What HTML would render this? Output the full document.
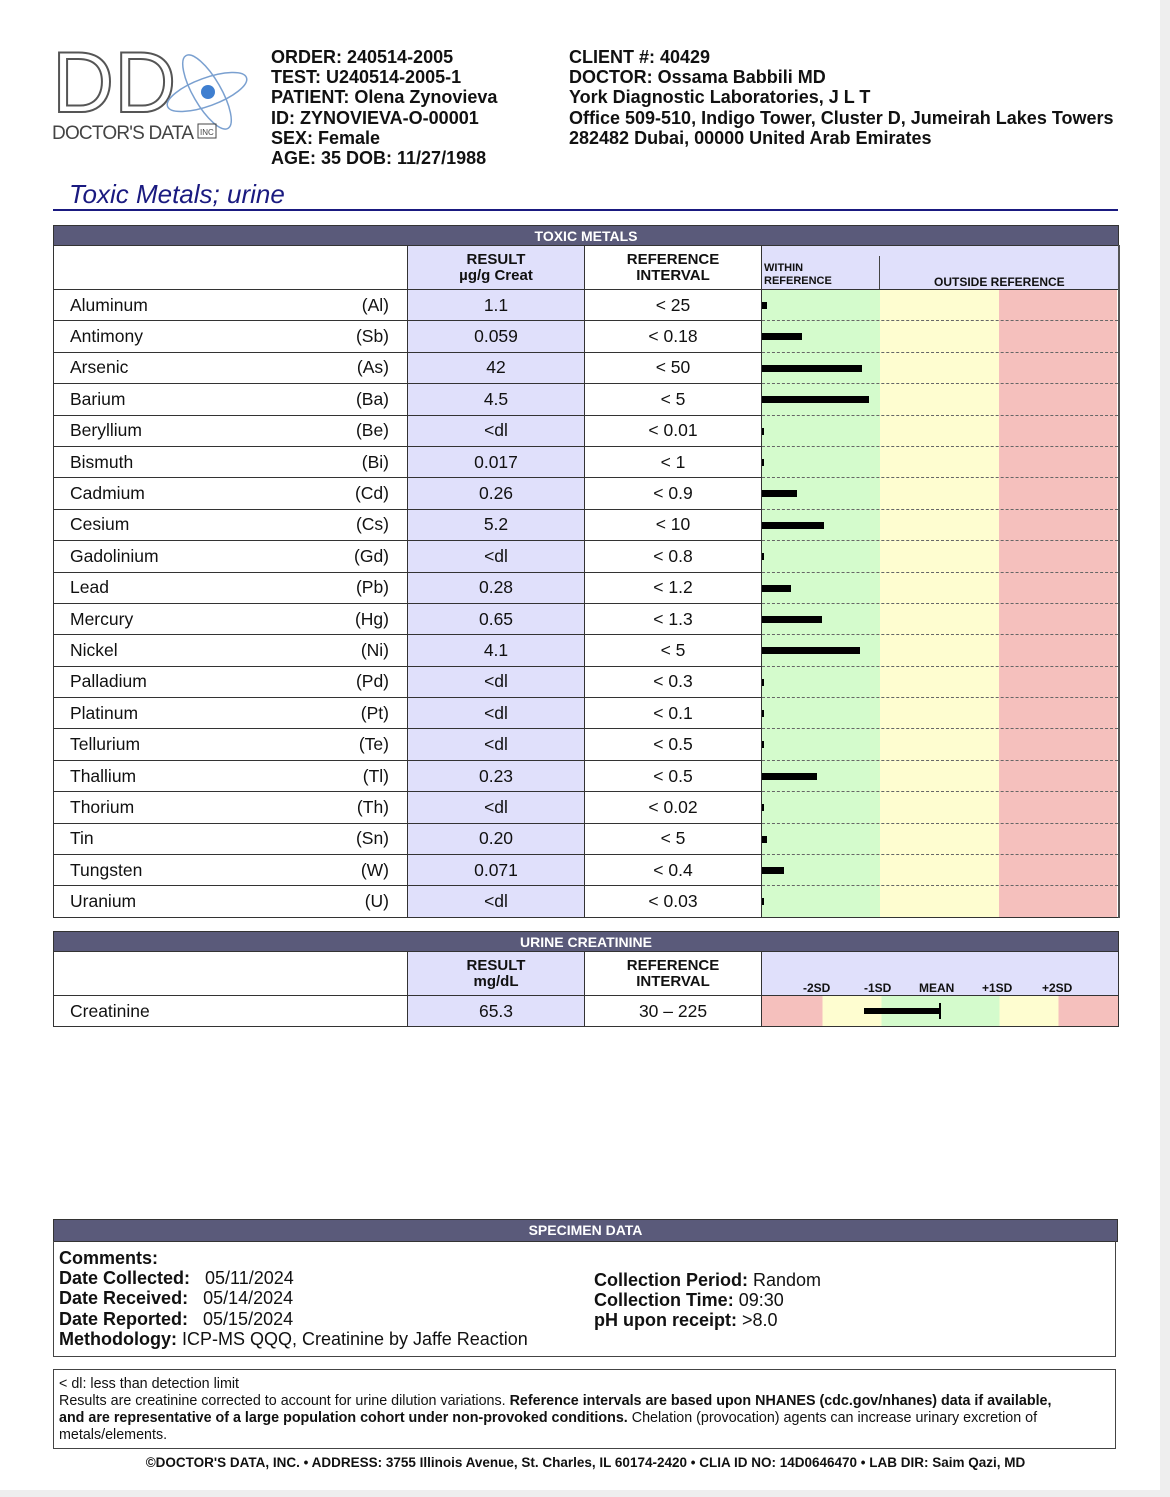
<!DOCTYPE html>
<html><head><meta charset="utf-8"><style>
body{margin:0;width:1170px;height:1497px;background:#fff;font-family:"Liberation Sans",Arial,sans-serif;color:#111;position:relative;overflow:hidden}
.a{position:absolute}
.hdr{font-weight:bold;font-size:18px;line-height:20.2px}
table{border-collapse:collapse;table-layout:fixed;position:absolute;left:53px;width:1065px}
td{padding:0;border:1px solid #333;font-size:17.5px;height:30.4px}
td.n{padding-left:16px}
td.n span{float:right;padding-right:18px}
td.r{background:#e0e0fb;text-align:center}
td.f{text-align:center}
td.g{border-top:none;border-bottom:1px dashed #666;border-right:2px solid #555;position:relative}
.bar{position:absolute;left:0;top:12px;height:7px;background:#000}
.title{background:#5a5a7a;color:#fff;font-weight:bold;font-size:14px;text-align:center;border:1px solid #333}
.th{font-weight:bold;font-size:15px;text-align:center;line-height:16px}
</style></head><body>
<div class="a" style="left:1160px;top:0;width:10px;height:1497px;background:#eee"></div>
<div class="a" style="left:0;top:1490px;width:1170px;height:7px;background:#eee"></div>
<svg class="a" style="left:50px;top:44px" width="200" height="106">
<text x="2" y="68" font-family="Liberation Sans" font-size="86" fill="#fff" stroke="#555" stroke-width="2">DD</text>
<ellipse cx="157" cy="48" rx="42" ry="14" fill="none" stroke="#7aa0d0" stroke-width="1.5" transform="rotate(-20 157 48)"/>
<ellipse cx="157" cy="48" rx="42" ry="14" fill="none" stroke="#7aa0d0" stroke-width="1.5" transform="rotate(60 157 48)"/>
<circle cx="158" cy="48" r="7" fill="#3f7fd0"/>
<text x="2" y="95" font-family="Liberation Sans" font-size="19" fill="#444" textLength="142">DOCTOR'S DATA</text>
<rect x="148" y="80" width="18" height="14" fill="none" stroke="#444"/><text x="150" y="91" font-family="Liberation Sans" font-size="8" fill="#444">INC</text>
</svg>
<div class="a hdr" style="left:271px;top:47px">ORDER: 240514-2005<br>TEST: U240514-2005-1<br>PATIENT: Olena Zynovieva<br>ID: ZYNOVIEVA-O-00001<br>SEX: Female<br>AGE: 35 DOB: 11/27/1988</div>
<div class="a hdr" style="left:569px;top:47px">CLIENT #: 40429<br>DOCTOR: Ossama Babbili MD<br>York Diagnostic Laboratories, J L T<br>Office 509-510, Indigo Tower, Cluster D, Jumeirah Lakes Towers<br>282482 Dubai, 00000 United Arab Emirates</div>
<div class="a" style="left:69px;top:179px;font-size:26px;font-style:italic;color:#1a1a80">Toxic Metals; urine</div>
<div class="a" style="left:53px;top:209px;width:1065px;height:2px;background:#1a1a80"></div>

<div class="a" style="left:761px;top:290px;width:119px;height:628px;background:#d4fbcc"></div>
<div class="a" style="left:880px;top:290px;width:119px;height:628px;background:#fefdd0"></div>
<div class="a" style="left:999px;top:290px;width:118px;height:628px;background:#f5c0bd"></div>
<table style="top:225px">
<colgroup><col style="width:354px"><col style="width:177px"><col style="width:177px"><col style="width:357px"></colgroup>
<tr><td colspan="4" class="title" style="height:19px">TOXIC METALS</td></tr>
<tr><td style="height:43px"></td><td class="r th">RESULT<br>µg/g Creat</td><td class="th">REFERENCE<br>INTERVAL</td><td style="background:#e0e0fb;position:relative;font-size:11px;font-weight:bold;border-right:2px solid #555"><div class="a" style="left:2px;top:16px;line-height:13px">WITHIN<br>REFERENCE</div><div class="a" style="left:117px;top:10px;width:1px;height:33px;background:#444"></div><div class="a" style="left:172px;top:29px;font-size:12px">OUTSIDE REFERENCE</div></td></tr>
<tr><td class="n">Aluminum<span>(Al)</span></td><td class="r">1.1</td><td class="f">&lt; 25</td><td class="g"><div class="bar" style="width:5px"></div></td></tr>
<tr><td class="n">Antimony<span>(Sb)</span></td><td class="r">0.059</td><td class="f">&lt; 0.18</td><td class="g"><div class="bar" style="width:40px"></div></td></tr>
<tr><td class="n">Arsenic<span>(As)</span></td><td class="r">42</td><td class="f">&lt; 50</td><td class="g"><div class="bar" style="width:100px"></div></td></tr>
<tr><td class="n">Barium<span>(Ba)</span></td><td class="r">4.5</td><td class="f">&lt; 5</td><td class="g"><div class="bar" style="width:107px"></div></td></tr>
<tr><td class="n">Beryllium<span>(Be)</span></td><td class="r">&lt;dl</td><td class="f">&lt; 0.01</td><td class="g"><div class="bar" style="width:2px"></div></td></tr>
<tr><td class="n">Bismuth<span>(Bi)</span></td><td class="r">0.017</td><td class="f">&lt; 1</td><td class="g"><div class="bar" style="width:2px"></div></td></tr>
<tr><td class="n">Cadmium<span>(Cd)</span></td><td class="r">0.26</td><td class="f">&lt; 0.9</td><td class="g"><div class="bar" style="width:35px"></div></td></tr>
<tr><td class="n">Cesium<span>(Cs)</span></td><td class="r">5.2</td><td class="f">&lt; 10</td><td class="g"><div class="bar" style="width:62px"></div></td></tr>
<tr><td class="n">Gadolinium<span>(Gd)</span></td><td class="r">&lt;dl</td><td class="f">&lt; 0.8</td><td class="g"><div class="bar" style="width:2px"></div></td></tr>
<tr><td class="n">Lead<span>(Pb)</span></td><td class="r">0.28</td><td class="f">&lt; 1.2</td><td class="g"><div class="bar" style="width:29px"></div></td></tr>
<tr><td class="n">Mercury<span>(Hg)</span></td><td class="r">0.65</td><td class="f">&lt; 1.3</td><td class="g"><div class="bar" style="width:60px"></div></td></tr>
<tr><td class="n">Nickel<span>(Ni)</span></td><td class="r">4.1</td><td class="f">&lt; 5</td><td class="g"><div class="bar" style="width:98px"></div></td></tr>
<tr><td class="n">Palladium<span>(Pd)</span></td><td class="r">&lt;dl</td><td class="f">&lt; 0.3</td><td class="g"><div class="bar" style="width:2px"></div></td></tr>
<tr><td class="n">Platinum<span>(Pt)</span></td><td class="r">&lt;dl</td><td class="f">&lt; 0.1</td><td class="g"><div class="bar" style="width:2px"></div></td></tr>
<tr><td class="n">Tellurium<span>(Te)</span></td><td class="r">&lt;dl</td><td class="f">&lt; 0.5</td><td class="g"><div class="bar" style="width:2px"></div></td></tr>
<tr><td class="n">Thallium<span>(Tl)</span></td><td class="r">0.23</td><td class="f">&lt; 0.5</td><td class="g"><div class="bar" style="width:55px"></div></td></tr>
<tr><td class="n">Thorium<span>(Th)</span></td><td class="r">&lt;dl</td><td class="f">&lt; 0.02</td><td class="g"><div class="bar" style="width:2px"></div></td></tr>
<tr><td class="n">Tin<span>(Sn)</span></td><td class="r">0.20</td><td class="f">&lt; 5</td><td class="g"><div class="bar" style="width:5px"></div></td></tr>
<tr><td class="n">Tungsten<span>(W)</span></td><td class="r">0.071</td><td class="f">&lt; 0.4</td><td class="g"><div class="bar" style="width:22px"></div></td></tr>
<tr><td class="n">Uranium<span>(U)</span></td><td class="r">&lt;dl</td><td class="f">&lt; 0.03</td><td class="g" style="border-bottom:1px solid #333"><div class="bar" style="width:2px"></div></td></tr>
</table>

<table style="top:931px">
<colgroup><col style="width:354px"><col style="width:177px"><col style="width:177px"><col style="width:357px"></colgroup>
<tr><td colspan="4" class="title" style="height:19px">URINE CREATININE</td></tr>
<tr><td style="height:43px"></td><td class="r th">RESULT<br>mg/dL</td><td class="th">REFERENCE<br>INTERVAL</td><td style="background:#e0e0fb;position:relative;font-size:12px;font-weight:bold"><div class="a" style="left:41px;top:29px">-2SD</div><div class="a" style="left:102px;top:29px">-1SD</div><div class="a" style="left:157px;top:29px">MEAN</div><div class="a" style="left:220px;top:29px">+1SD</div><div class="a" style="left:280px;top:29px">+2SD</div></td></tr>
<tr><td class="n">Creatinine</td><td class="r">65.3</td><td class="f">30 – 225</td><td style="position:relative;background:linear-gradient(to right,#f5c0bd 0 60px,#fefdd0 60px 119px,#d4fbcc 119px 237px,#fefdd0 237px 296px,#f5c0bd 296px)"><div class="a" style="left:102px;top:12px;width:77px;height:6px;background:#000"></div><div class="a" style="left:177px;top:7px;width:2px;height:16px;background:#000"></div></td></tr>
</table>

<div class="a title" style="left:53px;top:1219px;width:1063px;height:21px;line-height:21px">SPECIMEN DATA</div>
<div class="a" style="left:53px;top:1241px;width:1061px;height:115px;border:1.5px solid #444;border-top:none"></div>
<div class="a" style="left:59px;top:1248px;font-size:18px;line-height:20.2px"><b>Comments:</b><br><b>Date Collected:</b>&nbsp;&nbsp; 05/11/2024<br><b>Date Received:</b>&nbsp;&nbsp; 05/14/2024<br><b>Date Reported:</b>&nbsp;&nbsp; 05/15/2024<br><b>Methodology:</b> ICP-MS QQQ, Creatinine by Jaffe Reaction</div>
<div class="a" style="left:594px;top:1270px;font-size:18px;line-height:20.2px"><b>Collection Period:</b> Random<br><b>Collection Time:</b> 09:30<br><b>pH upon receipt:</b> &gt;8.0</div>
<div class="a" style="left:53px;top:1369px;width:1061px;height:78px;border:1.5px solid #444"></div>
<div class="a" style="left:59px;top:1376px;width:1040px;font-size:14.3px;line-height:17px">&lt; dl: less than detection limit<br>Results are creatinine corrected to account for urine dilution variations. <b>Reference intervals are based upon NHANES (cdc.gov/nhanes) data if available,<br>and are representative of a large population cohort under non-provoked conditions.</b> Chelation (provocation) agents can increase urinary excretion of metals/elements.</div>
<div class="a" style="left:53px;top:1455px;width:1065px;text-align:center;font-size:13.5px;font-weight:bold">©DOCTOR'S DATA, INC. • ADDRESS: 3755 Illinois Avenue, St. Charles, IL 60174-2420 • CLIA ID NO: 14D0646470 • LAB DIR: Saim Qazi, MD</div>
</body></html>
